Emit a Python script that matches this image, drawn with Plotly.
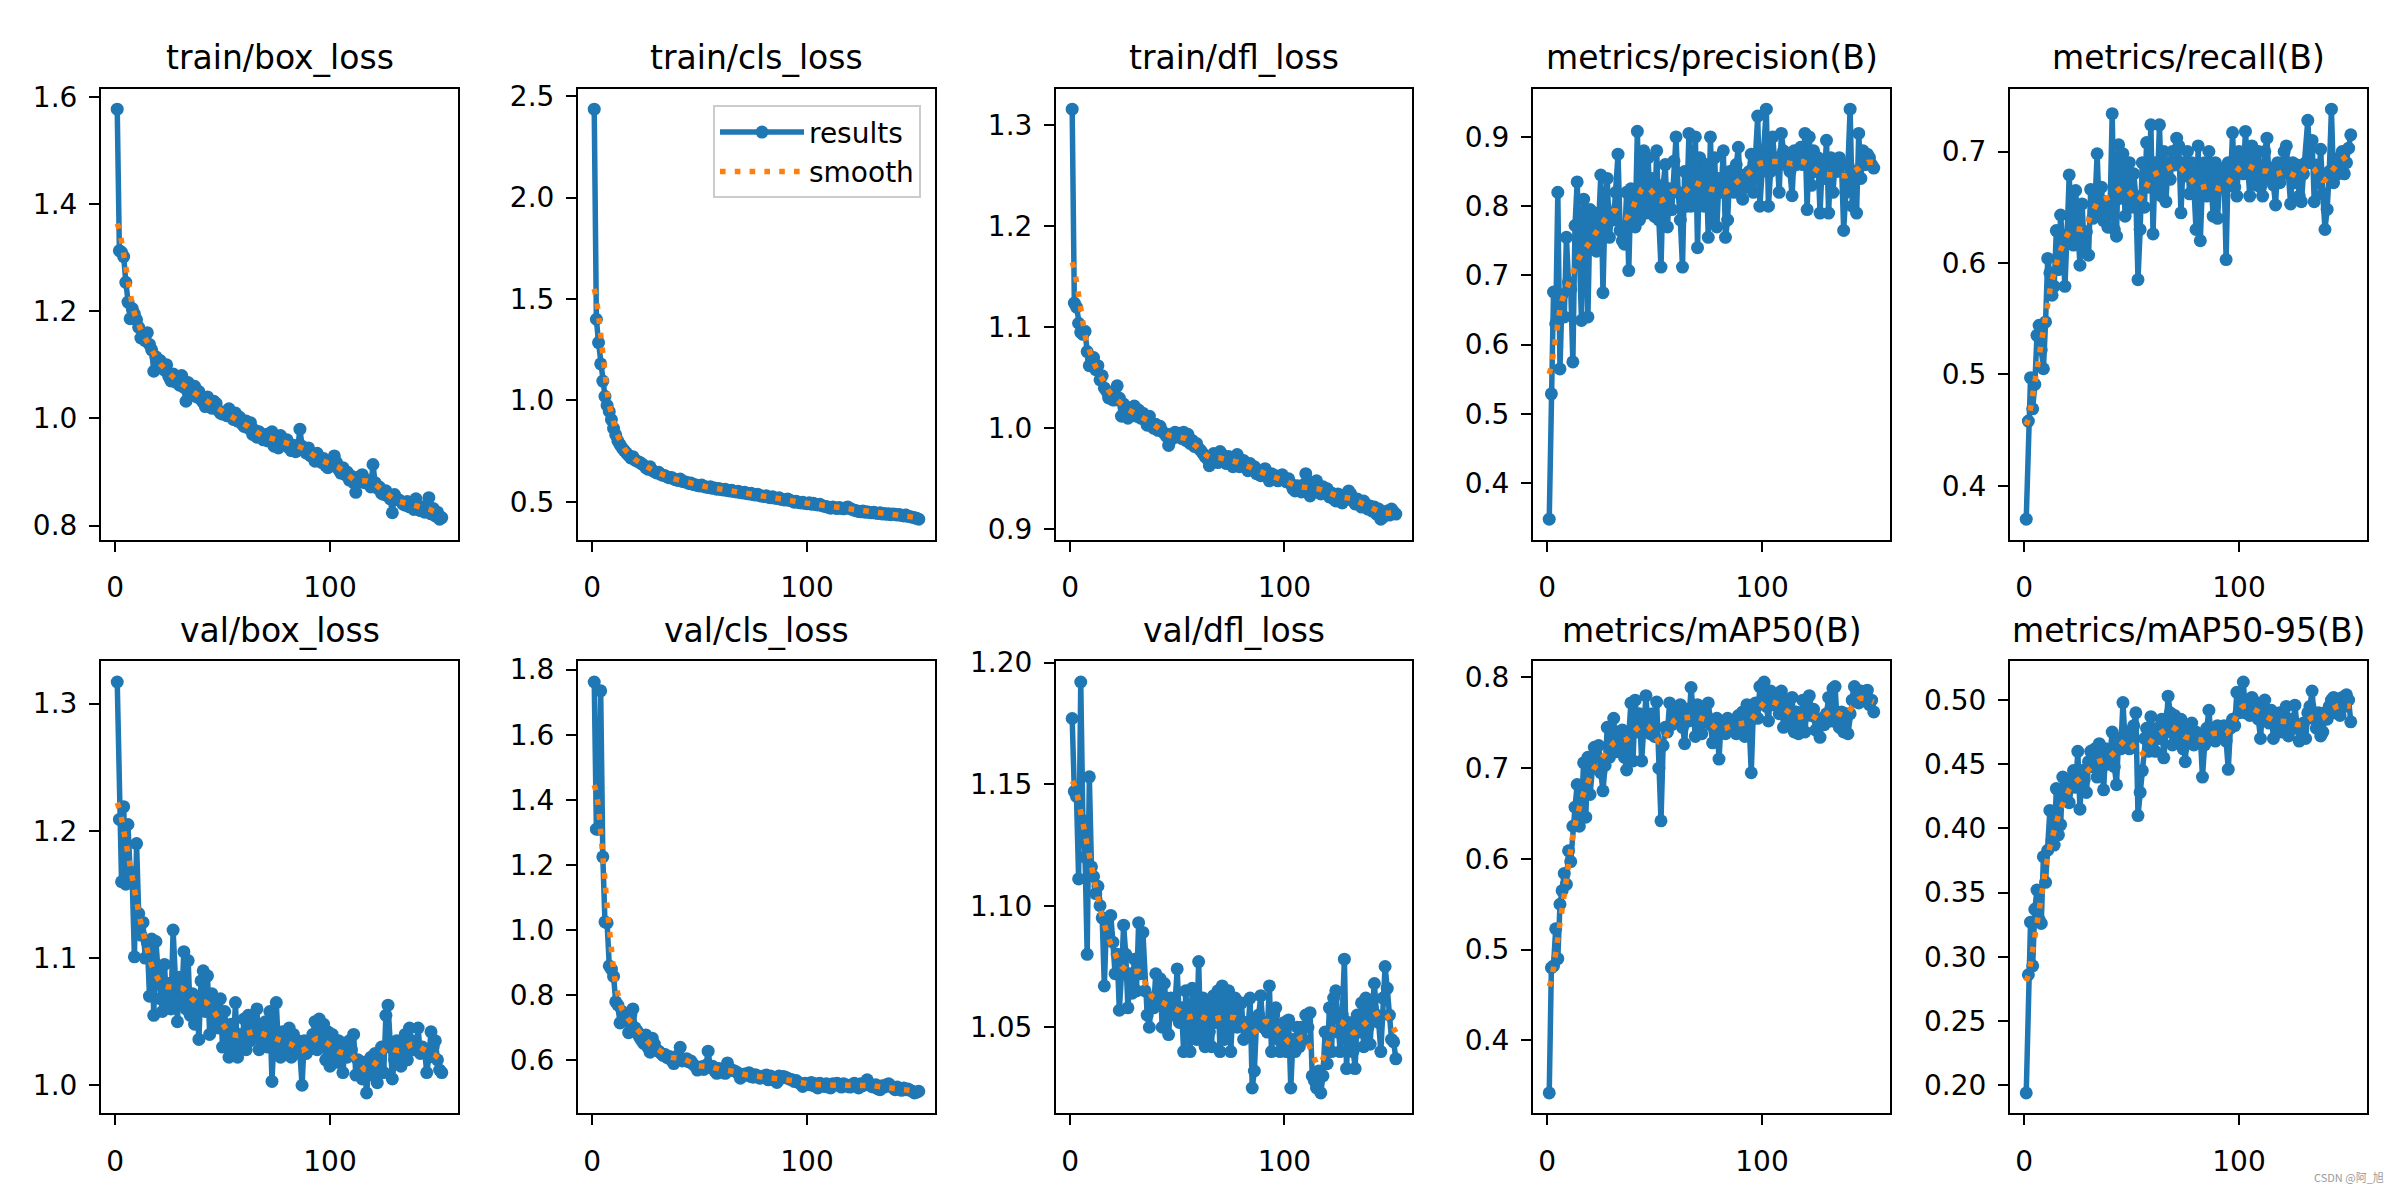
import numpy as np
import plotly.graph_objects as go

# ---------------- data ----------------
titles = ["train/box_loss", "train/cls_loss", "train/dfl_loss", "metrics/precision(B)", "metrics/recall(B)",
          "val/box_loss", "val/cls_loss", "val/dfl_loss", "metrics/mAP50(B)", "metrics/mAP50-95(B)"]

train_box_loss = [
    1.577, 1.313, 1.310, 1.302, 1.254, 1.217, 1.186, 1.205, 1.195, 1.184,
    1.170, 1.150, 1.158, 1.145, 1.160, 1.138, 1.128, 1.088, 1.115, 1.100,
    1.108, 1.095, 1.090, 1.100, 1.078, 1.070, 1.083, 1.068, 1.075, 1.062,
    1.080, 1.058, 1.032, 1.067, 1.055, 1.045, 1.060, 1.040, 1.050, 1.035,
    1.030, 1.022, 1.040, 1.028, 1.019, 1.032, 1.028, 1.015, 1.010, 1.008,
    1.012, 1.005, 1.018, 1.006, 0.998, 1.010, 0.995, 1.002, 0.990, 0.985,
    0.995, 0.982, 0.992, 0.970, 0.978, 0.965, 0.975, 0.966, 0.960, 0.970,
    0.958, 0.972, 0.975, 0.948, 0.962, 0.945, 0.968, 0.955, 0.950, 0.960,
    0.945, 0.940, 0.950, 0.938, 0.945, 0.980, 0.948, 0.940, 0.935, 0.945,
    0.930, 0.928, 0.920, 0.935, 0.922, 0.918, 0.925, 0.912, 0.908, 0.920,
    0.915, 0.930, 0.918, 0.905, 0.898, 0.908, 0.895, 0.900, 0.885, 0.892,
    0.880, 0.862, 0.890, 0.882, 0.895, 0.880, 0.885, 0.878, 0.872, 0.914,
    0.880, 0.870, 0.872, 0.860, 0.858, 0.865, 0.855, 0.850, 0.824, 0.858,
    0.850, 0.848, 0.845, 0.840, 0.838, 0.845, 0.835, 0.840, 0.830, 0.850,
    0.835, 0.828, 0.832, 0.825, 0.838, 0.852, 0.822, 0.832, 0.818, 0.825,
    0.812, 0.815]

train_cls_loss = [
    2.436, 1.400, 1.285, 1.180, 1.095, 1.020, 0.975, 0.945, 0.905, 0.862,
    0.830, 0.800, 0.782, 0.765, 0.752, 0.740, 0.728, 0.716, 0.722, 0.705,
    0.700, 0.695, 0.688, 0.680, 0.668, 0.660, 0.672, 0.655, 0.648, 0.642,
    0.645, 0.635, 0.630, 0.628, 0.622, 0.618, 0.620, 0.612, 0.608, 0.605,
    0.612, 0.600, 0.598, 0.596, 0.590, 0.592, 0.585, 0.584, 0.580, 0.578,
    0.582, 0.575, 0.572, 0.570, 0.574, 0.566, 0.568, 0.562, 0.565, 0.560,
    0.558, 0.562, 0.555, 0.553, 0.556, 0.550, 0.548, 0.552, 0.545, 0.543,
    0.547, 0.540, 0.538, 0.542, 0.535, 0.533, 0.537, 0.530, 0.528, 0.526,
    0.530, 0.522, 0.520, 0.524, 0.518, 0.516, 0.520, 0.512, 0.510, 0.508,
    0.514, 0.506, 0.504, 0.498, 0.502, 0.496, 0.494, 0.498, 0.492, 0.490,
    0.495, 0.488, 0.492, 0.486, 0.484, 0.487, 0.480, 0.478, 0.476, 0.472,
    0.468, 0.474, 0.470, 0.466, 0.472, 0.468, 0.465, 0.470, 0.474, 0.466,
    0.462, 0.458, 0.455, 0.452, 0.450, 0.454, 0.448, 0.451, 0.447, 0.445,
    0.448, 0.444, 0.442, 0.446, 0.440, 0.442, 0.438, 0.441, 0.436, 0.440,
    0.438, 0.434, 0.437, 0.432, 0.430, 0.434, 0.428, 0.426, 0.424, 0.421,
    0.418, 0.414]

train_dfl_loss = [
    1.316, 1.124, 1.120, 1.104, 1.095, 1.093, 1.096, 1.076, 1.062, 1.068,
    1.070, 1.058, 1.062, 1.048, 1.052, 1.040, 1.037, 1.030, 1.034, 1.028,
    1.028, 1.042, 1.030, 1.012, 1.024, 1.018, 1.010, 1.020, 1.015, 1.022,
    1.012, 1.018, 1.010, 1.015, 1.008, 1.003, 1.012, 1.005, 1.000, 1.004,
    0.998, 1.002, 0.997, 0.995, 0.992, 0.983, 0.994, 0.990, 0.996, 0.992,
    0.995, 0.990, 0.996, 0.988, 0.994, 0.985, 0.988, 0.982, 0.985, 0.980,
    0.978, 0.975, 0.972, 0.970, 0.963, 0.970, 0.975, 0.972, 0.966, 0.977,
    0.974, 0.968, 0.965, 0.972, 0.970, 0.962, 0.966, 0.974, 0.962, 0.966,
    0.968, 0.962, 0.958, 0.965, 0.960, 0.962, 0.955, 0.958, 0.953, 0.957,
    0.960, 0.952, 0.948, 0.955, 0.950, 0.953, 0.948, 0.951, 0.954, 0.950,
    0.947, 0.950, 0.945, 0.940, 0.938, 0.943, 0.941, 0.937, 0.944, 0.955,
    0.936, 0.933, 0.946, 0.940, 0.948, 0.938, 0.935, 0.942, 0.938, 0.940,
    0.932, 0.936, 0.930, 0.928, 0.935, 0.932, 0.926, 0.934, 0.930, 0.938,
    0.935, 0.928, 0.925, 0.930, 0.926, 0.922, 0.928, 0.924, 0.920, 0.923,
    0.918, 0.922, 0.915, 0.920, 0.910, 0.912, 0.916, 0.918, 0.914, 0.920,
    0.917, 0.915]

precision = [
    0.348, 0.529, 0.676, 0.630, 0.820, 0.565, 0.672, 0.640, 0.755, 0.690,
    0.680, 0.575, 0.772, 0.835, 0.720, 0.635, 0.810, 0.760, 0.640, 0.795,
    0.740, 0.790, 0.735, 0.775, 0.845, 0.675, 0.800, 0.840, 0.755, 0.790,
    0.780, 0.820, 0.875, 0.765, 0.750, 0.745, 0.820, 0.707, 0.825, 0.780,
    0.770, 0.908, 0.780, 0.830, 0.880, 0.790, 0.870, 0.800, 0.840, 0.785,
    0.880, 0.780, 0.712, 0.830, 0.860, 0.770, 0.825, 0.795, 0.865, 0.900,
    0.820, 0.780, 0.712, 0.850, 0.800, 0.905, 0.800, 0.860, 0.900, 0.740,
    0.870, 0.830, 0.800, 0.860, 0.755, 0.900, 0.780, 0.870, 0.770, 0.840,
    0.820, 0.880, 0.755, 0.780, 0.850, 0.830, 0.820, 0.860, 0.885, 0.820,
    0.810, 0.845, 0.830, 0.850, 0.875, 0.820, 0.870, 0.930, 0.800, 0.850,
    0.870, 0.940, 0.800, 0.850, 0.900, 0.860, 0.870, 0.820, 0.905, 0.880,
    0.860, 0.870, 0.850, 0.815, 0.880, 0.860, 0.870, 0.885, 0.860, 0.905,
    0.795, 0.900, 0.830, 0.880, 0.850, 0.870, 0.790, 0.860, 0.840, 0.895,
    0.790, 0.870, 0.820, 0.860, 0.850, 0.870, 0.860, 0.765, 0.820, 0.860,
    0.940, 0.800, 0.850, 0.790, 0.905, 0.840, 0.880, 0.860, 0.875, 0.870,
    0.860, 0.855]

recall = [
    0.370, 0.458, 0.497, 0.469, 0.491, 0.535, 0.544, 0.522, 0.505, 0.547,
    0.604, 0.591, 0.571, 0.579, 0.629, 0.594, 0.643, 0.616, 0.579, 0.625,
    0.679, 0.628, 0.616, 0.665, 0.622, 0.598, 0.653, 0.612, 0.628, 0.607,
    0.666, 0.640, 0.655, 0.698, 0.645, 0.668, 0.638, 0.655, 0.632, 0.648,
    0.734, 0.630, 0.624, 0.706, 0.658, 0.698, 0.642, 0.670, 0.690, 0.650,
    0.680, 0.660, 0.585, 0.630, 0.690, 0.650, 0.708, 0.668, 0.724, 0.626,
    0.690, 0.668, 0.724, 0.660, 0.700, 0.655, 0.690, 0.675, 0.700, 0.688,
    0.712, 0.705, 0.645, 0.690, 0.678, 0.700, 0.662, 0.690, 0.668, 0.630,
    0.705, 0.620, 0.672, 0.690, 0.660, 0.700, 0.665, 0.642, 0.690, 0.640,
    0.672, 0.680, 0.685, 0.603, 0.690, 0.672, 0.717, 0.668, 0.660, 0.700,
    0.690, 0.680, 0.718, 0.692, 0.660, 0.705, 0.678, 0.670, 0.700, 0.668,
    0.660, 0.700, 0.712, 0.675, 0.685, 0.670, 0.652, 0.690, 0.672, 0.682,
    0.700, 0.705, 0.680, 0.653, 0.690, 0.672, 0.688, 0.660, 0.655, 0.680,
    0.690, 0.728, 0.690, 0.710, 0.655, 0.688, 0.672, 0.702, 0.662, 0.630,
    0.648, 0.682, 0.738, 0.672, 0.690, 0.680, 0.695, 0.700, 0.680, 0.690,
    0.703, 0.715]

val_box_loss = [
    1.317, 1.209, 1.160, 1.219, 1.158, 1.205, 1.168, 1.160, 1.101, 1.190,
    1.135, 1.118, 1.128, 1.100, 1.112, 1.070, 1.115, 1.055, 1.113, 1.090,
    1.068, 1.058, 1.095, 1.062, 1.080, 1.060, 1.122, 1.070, 1.050, 1.085,
    1.068, 1.105, 1.060, 1.098, 1.055, 1.072, 1.048, 1.064, 1.036, 1.082,
    1.090, 1.058, 1.086, 1.040, 1.072, 1.050, 1.062, 1.045, 1.068, 1.030,
    1.058, 1.035, 1.022, 1.048, 1.028, 1.065, 1.022, 1.040, 1.030, 1.052,
    1.028, 1.055, 1.035, 1.048, 1.038, 1.060, 1.028, 1.045, 1.032, 1.050,
    1.030, 1.058, 1.003, 1.040, 1.065, 1.030, 1.022, 1.042, 1.035, 1.028,
    1.045, 1.022, 1.040, 1.030, 1.035, 1.025, 1.000, 1.035, 1.025, 1.028,
    1.032, 1.040, 1.050, 1.028, 1.052, 1.030, 1.048, 1.020, 1.042, 1.015,
    1.040, 1.030, 1.018, 1.035, 1.025, 1.010, 1.030, 1.022, 1.035, 1.028,
    1.040, 1.008, 1.020, 1.010, 1.005, 1.018, 0.994, 1.012, 1.022, 1.008,
    1.025, 1.002, 1.018, 1.030, 1.010, 1.055, 1.063, 1.030, 1.005, 1.020,
    1.035, 1.025, 1.015, 1.030, 1.040, 1.020, 1.045, 1.035, 1.028, 1.030,
    1.045, 1.025, 1.030, 1.028, 1.010, 1.022, 1.042, 1.030, 1.035, 1.020,
    1.012, 1.010]

val_cls_loss = [
    1.762, 1.310, 1.310, 1.735, 1.225, 1.025, 1.022, 0.890, 0.880, 0.858,
    0.780, 0.770, 0.715, 0.750, 0.728, 0.735, 0.685, 0.740, 0.758, 0.700,
    0.690, 0.672, 0.662, 0.652, 0.678, 0.640, 0.625, 0.668, 0.650, 0.632,
    0.628, 0.622, 0.615, 0.618, 0.608, 0.612, 0.600, 0.590, 0.605, 0.615,
    0.640, 0.598, 0.602, 0.605, 0.595, 0.598, 0.588, 0.582, 0.570, 0.575,
    0.580, 0.572, 0.585, 0.628, 0.578, 0.582, 0.568, 0.560, 0.575, 0.568,
    0.562, 0.560, 0.592, 0.575, 0.570, 0.568, 0.565, 0.560, 0.545, 0.552,
    0.558, 0.555, 0.562, 0.550, 0.548, 0.556, 0.552, 0.545, 0.550, 0.548,
    0.555, 0.540, 0.552, 0.548, 0.538, 0.532, 0.552, 0.545, 0.550, 0.548,
    0.545, 0.542, 0.540, 0.535, 0.538, 0.532, 0.528, 0.520, 0.530, 0.528,
    0.525, 0.532, 0.522, 0.528, 0.515, 0.530, 0.525, 0.520, 0.528, 0.518,
    0.515, 0.528, 0.525, 0.530, 0.522, 0.518, 0.528, 0.525, 0.520, 0.518,
    0.525, 0.530, 0.520, 0.515, 0.528, 0.522, 0.530, 0.540, 0.528, 0.520,
    0.518, 0.525, 0.512, 0.510, 0.522, 0.518, 0.525, 0.528, 0.522, 0.515,
    0.510, 0.518, 0.512, 0.508, 0.515, 0.510, 0.512, 0.508, 0.505, 0.500,
    0.502, 0.505]

val_dfl_loss = [
    1.177, 1.147, 1.145, 1.111, 1.192, 1.135, 1.120, 1.080, 1.153, 1.116,
    1.112, 1.105, 1.108, 1.100, 1.095, 1.067, 1.093, 1.088, 1.096, 1.085,
    1.072, 1.080, 1.057, 1.072, 1.092, 1.080, 1.058, 1.072, 1.064, 1.078,
    1.065, 1.093, 1.072, 1.089, 1.065, 1.055, 1.050, 1.062, 1.058, 1.072,
    1.060, 1.070, 1.050, 1.068, 1.058, 1.047, 1.062, 1.055, 1.060, 1.074,
    1.052, 1.058, 1.040, 1.065, 1.050, 1.040, 1.066, 1.055, 1.045, 1.077,
    1.045, 1.062, 1.042, 1.060, 1.048, 1.042, 1.063, 1.052, 1.065, 1.040,
    1.067, 1.045, 1.055, 1.065, 1.040, 1.058, 1.062, 1.050, 1.052, 1.060,
    1.045, 1.052, 1.048, 1.062, 1.025, 1.032, 1.052, 1.055, 1.063, 1.050,
    1.052, 1.048, 1.067, 1.040, 1.055, 1.058, 1.045, 1.040, 1.048, 1.052,
    1.040, 1.053, 1.025, 1.045, 1.040, 1.050, 1.042, 1.050, 1.045, 1.055,
    1.050, 1.056, 1.030, 1.028, 1.025, 1.032, 1.023, 1.030, 1.048, 1.035,
    1.058, 1.040, 1.062, 1.065, 1.048, 1.040, 1.055, 1.078, 1.033, 1.052,
    1.050, 1.040, 1.033, 1.055, 1.048, 1.060, 1.042, 1.062, 1.050, 1.043,
    1.058, 1.068, 1.055, 1.052, 1.040, 1.062, 1.075, 1.066, 1.055, 1.045,
    1.044, 1.037]

map50 = [
    0.342, 0.480, 0.482, 0.523, 0.490, 0.550, 0.565, 0.584, 0.572, 0.609,
    0.597, 0.636, 0.657, 0.682, 0.636, 0.657, 0.706, 0.646, 0.712, 0.671,
    0.700, 0.723, 0.712, 0.725, 0.695, 0.675, 0.703, 0.745, 0.712, 0.735,
    0.755, 0.718, 0.740, 0.725, 0.742, 0.712, 0.698, 0.735, 0.772, 0.708,
    0.775, 0.740, 0.760, 0.708, 0.755, 0.780, 0.745, 0.738, 0.760, 0.735,
    0.773, 0.700, 0.642, 0.725, 0.745, 0.740, 0.772, 0.748, 0.760, 0.762,
    0.755, 0.770, 0.745, 0.727, 0.765, 0.752, 0.789, 0.760, 0.735, 0.770,
    0.750, 0.738, 0.768, 0.760, 0.772, 0.748, 0.728, 0.742, 0.755, 0.710,
    0.752, 0.745, 0.738, 0.755, 0.742, 0.748, 0.752, 0.738, 0.758, 0.745,
    0.762, 0.735, 0.770, 0.750, 0.695, 0.765, 0.772, 0.755, 0.790, 0.775,
    0.795, 0.768, 0.752, 0.785, 0.770, 0.778, 0.782, 0.760, 0.785, 0.745,
    0.775, 0.760, 0.752, 0.778, 0.740, 0.762, 0.738, 0.748, 0.775, 0.740,
    0.770, 0.780, 0.758, 0.765, 0.742, 0.752, 0.734, 0.755, 0.748, 0.760,
    0.778, 0.752, 0.788, 0.790, 0.750, 0.745, 0.762, 0.740, 0.760, 0.738,
    0.760, 0.775, 0.790, 0.782, 0.772, 0.785, 0.775, 0.780, 0.786, 0.770,
    0.775, 0.762]

map50_95 = [
    0.194, 0.286, 0.327, 0.293, 0.337, 0.352, 0.329, 0.326, 0.378, 0.358,
    0.383, 0.414, 0.391, 0.387, 0.431, 0.395, 0.403, 0.440, 0.425, 0.432,
    0.420, 0.438, 0.445, 0.432, 0.460, 0.415, 0.445, 0.438, 0.428, 0.452,
    0.460, 0.448, 0.462, 0.440, 0.466, 0.455, 0.430, 0.462, 0.450, 0.458,
    0.475, 0.448, 0.434, 0.470, 0.462, 0.498, 0.468, 0.475, 0.462, 0.470,
    0.480, 0.490, 0.410, 0.428, 0.445, 0.470, 0.478, 0.460, 0.487, 0.470,
    0.460, 0.478, 0.470, 0.485, 0.455, 0.475, 0.503, 0.490, 0.465, 0.488,
    0.480, 0.470, 0.485, 0.462, 0.452, 0.478, 0.470, 0.482, 0.465, 0.475,
    0.468, 0.472, 0.440, 0.465, 0.478, 0.492, 0.470, 0.475, 0.468, 0.480,
    0.475, 0.472, 0.480, 0.468, 0.446, 0.478, 0.485, 0.480, 0.506, 0.490,
    0.495, 0.514, 0.490, 0.498, 0.488, 0.502, 0.492, 0.498, 0.485, 0.470,
    0.495, 0.500, 0.488, 0.482, 0.492, 0.470, 0.485, 0.478, 0.490, 0.475,
    0.488, 0.495, 0.472, 0.485, 0.478, 0.496, 0.480, 0.468, 0.475, 0.482,
    0.470, 0.490, 0.495, 0.507, 0.485, 0.478, 0.490, 0.472, 0.475, 0.490,
    0.485, 0.495, 0.500, 0.502, 0.490, 0.498, 0.488, 0.502, 0.495, 0.504,
    0.500, 0.483]

series = [train_box_loss, train_cls_loss, train_dfl_loss, precision, recall,
          val_box_loss, val_cls_loss, val_dfl_loss, map50, map50_95]
y_dticks = [0.2, 0.5, 0.1, 0.1, 0.1, 0.1, 0.2, 0.05, 0.1, 0.05]
y_formats = [".1f", ".1f", ".1f", ".1f", ".1f", ".1f", ".1f", ".2f", ".1f", ".2f"]


def gaussian_smooth(y, sigma=3.0):
    y = np.asarray(y, dtype=float)
    r = int(4 * sigma + 0.5)
    k = np.exp(-0.5 * (np.arange(-r, r + 1) / sigma) ** 2)
    k /= k.sum()
    yp = np.pad(y, r, mode="symmetric")
    return np.convolve(yp, k, mode="valid")


# ---------------- layout geometry ----------------
W, H = 2400, 1200
col_px = [(101, 458), (578, 935), (1056, 1412), (1533, 1890), (2010, 2367)]
row_px = [(75, 534), (658, 1118)]

BLUE = "#1f77b4"
ORANGE = "#ff7f0e"
FONT = "DejaVu Sans"

fig = go.Figure()
annotations = []
layout_axes = {}

for i, (title, y) in enumerate(zip(titles, series)):
    r, c = divmod(i, 5)
    n = i + 1
    xa = "x" if n == 1 else f"x{n}"
    ya = "y" if n == 1 else f"y{n}"
    x = list(range(1, len(y) + 1))
    ys = gaussian_smooth(y)

    fig.add_trace(go.Scatter(
        x=x, y=y, mode="lines+markers", name="results",
        line=dict(color=BLUE, width=5.5),
        marker=dict(color=BLUE, size=13),
        xaxis=xa, yaxis=ya, showlegend=(i == 1), legendrank=1,
    ))
    fig.add_trace(go.Scatter(
        x=x, y=ys, mode="lines", name="smooth",
        line=dict(color=ORANGE, width=5.5, dash="5.6px,9.2px"),
        xaxis=xa, yaxis=ya, showlegend=(i == 1), legendrank=2,
    ))

    lo = min(min(y), float(ys.min()))
    hi = max(max(y), float(ys.max()))
    pad = 0.05 * (hi - lo)
    xlo, xhi = 1, len(y)
    xpad = 0.05 * (xhi - xlo)

    x0, x1 = col_px[c]
    t, b = row_px[r]
    common = dict(
        showline=True, linecolor="black", linewidth=2, mirror=True,
        ticks="outside", ticklen=10, tickwidth=2, tickcolor="black",
        showgrid=False, zeroline=False,
        tickfont=dict(family=FONT, size=28, color="black"),
    )
    layout_axes[f"xaxis{'' if n == 1 else n}"] = dict(
        domain=[x0 / W, x1 / W], anchor=ya,
        range=[xlo - xpad, xhi + xpad], tick0=0, dtick=100,
        ticklabelstandoff=12, **common)
    layout_axes[f"yaxis{'' if n == 1 else n}"] = dict(
        domain=[1 - b / H, 1 - t / H], anchor=xa,
        range=[lo - pad, hi + pad], tick0=0, dtick=y_dticks[i],
        tickformat=y_formats[i], ticklabelstandoff=6, **common)

    annotations.append(dict(
        text=title, xref="paper", yref="paper",
        x=(x0 + x1) / 2 / W, y=1 - (t - 10) / H,
        xanchor="center", yanchor="bottom", showarrow=False,
        font=dict(family=FONT, size=33, color="black"),
    ))

annotations.append(dict(
    text="CSDN @阿_旭", xref="paper", yref="paper",
    x=2386 / W, y=1 - 1183 / H, xanchor="right", yanchor="middle",
    showarrow=False, font=dict(family="Noto Sans CJK SC", size=11, color="#9a9a9a"),
))

fig.update_layout(
    width=W, height=H,
    margin=dict(l=0, r=0, t=0, b=0),
    paper_bgcolor="white", plot_bgcolor="white",
    font=dict(family=FONT, color="black"),
    annotations=annotations,
    legend=dict(
        x=921 / W, y=1 - 92 / H, xanchor="right", yanchor="top",
        bgcolor="rgba(255,255,255,0.8)", bordercolor="#cccccc", borderwidth=2,
        font=dict(family=FONT, size=28, color="black"),
        itemwidth=84, tracegroupgap=0,
    ),
    **layout_axes,
)

fig.write_html(
    "out.html",
    config={"displayModeBar": False},
    post_script="document.body.style.margin='0';document.body.style.padding='0';"
                "document.documentElement.style.overflow='hidden';",
)
